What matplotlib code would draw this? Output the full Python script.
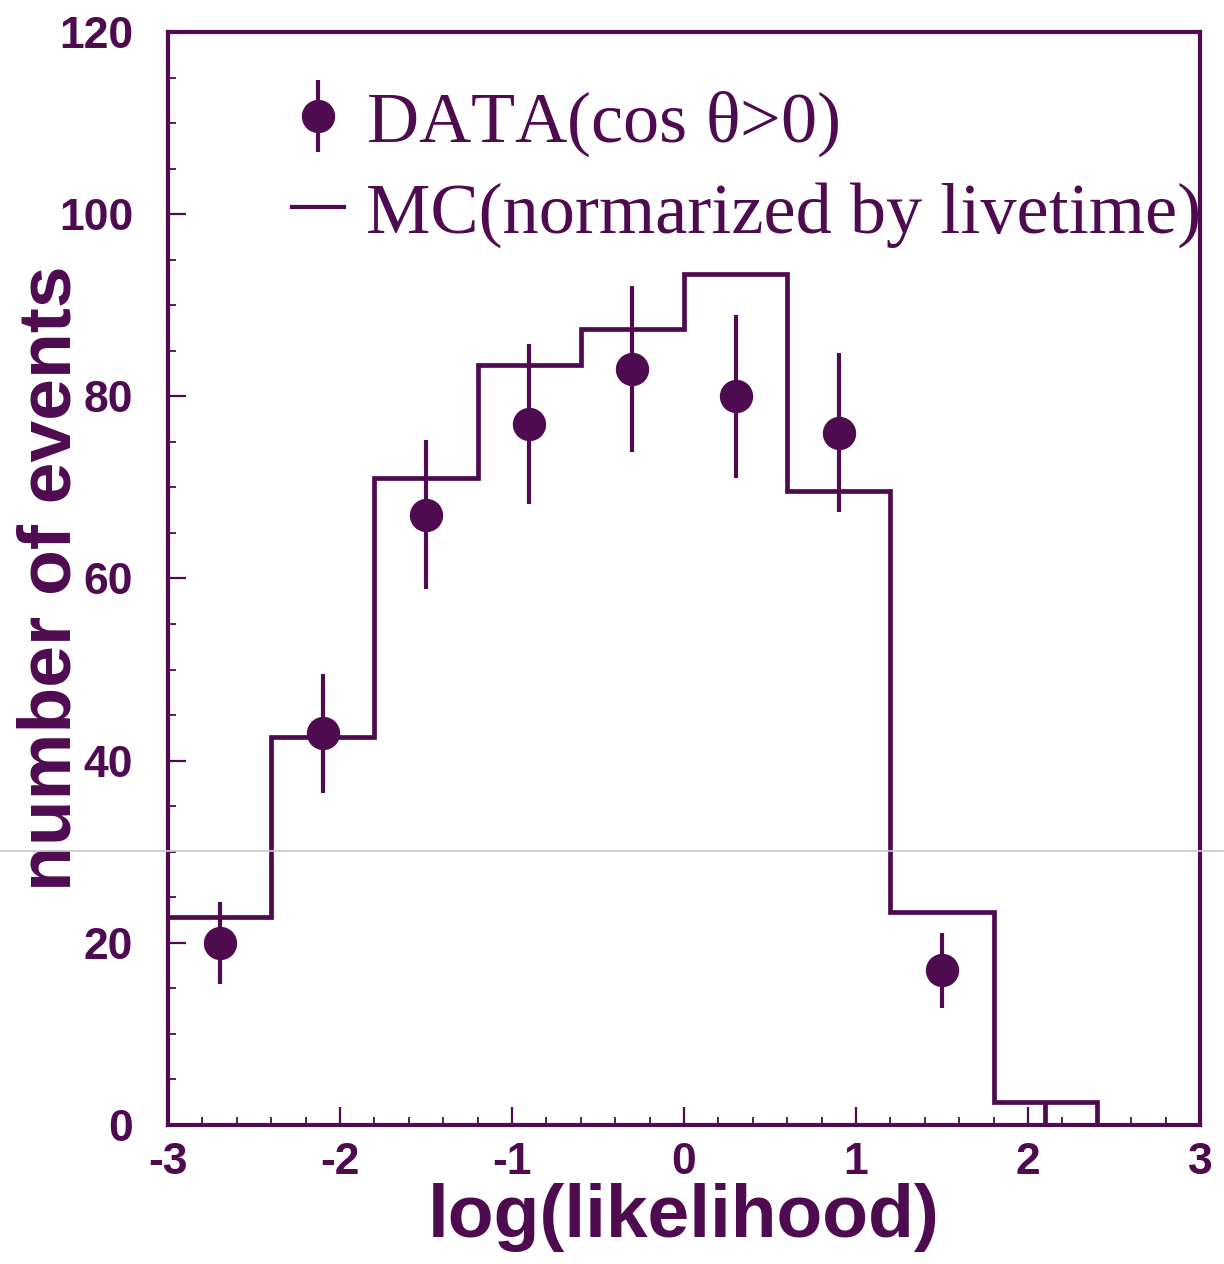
import matplotlib
matplotlib.use('Agg')
import matplotlib.pyplot as plt
from matplotlib.lines import Line2D
from matplotlib.ticker import MultipleLocator
import numpy as np

plt.rcParams['axes.unicode_minus'] = False

# histogram of the MC expectation (bin edges and contents)
mc_edges = [-3.0, -2.4, -1.8, -1.2, -0.6, 0.0, 0.6, 1.2, 1.8, 2.1, 2.4, 3.0]
mc_counts = [22.8, 42.6, 71.0, 83.4, 87.4, 93.4, 69.6, 23.4, 2.5, 2.5, 0.0]

# measured points
data_x = [-2.7, -2.1, -1.5, -0.9, -0.3, 0.3, 0.9, 1.5]
data_y = [20, 43, 67, 77, 83, 80, 76, 17]
data_err = np.sqrt(data_y)

col = '#4e0b4f'

fig = plt.figure(figsize=(12.24, 12.64), dpi=100)
ax = fig.add_axes([0.1373, 0.110, 0.8431, 0.8647])

ax.stairs(mc_counts, mc_edges, color=col, lw=3.4, baseline=None)
# inner edge between the two last filled bins
ax.vlines(mc_edges[9], 0, mc_counts[8], color=col, lw=3.4)
ax.errorbar(data_x, data_y, yerr=data_err, fmt='o', color=col, ms=23,
            elinewidth=3.0, capsize=0)

ax.set_xlim(-3, 3)
ax.set_ylim(0, 120)

ax.xaxis.set_major_locator(MultipleLocator(1))
ax.xaxis.set_minor_locator(MultipleLocator(0.2))
ax.yaxis.set_major_locator(MultipleLocator(20))
ax.yaxis.set_minor_locator(MultipleLocator(5))
ax.tick_params(which='both', direction='in', color=col, top=False, right=False)
ax.tick_params(which='major', length=13, width=1.6)
ax.tick_params(which='minor', length=6, width=1.3)
ax.tick_params(axis='x', pad=12)
ax.tick_params(axis='y', pad=25)
for lab in ax.get_xticklabels() + ax.get_yticklabels():
    lab.set_fontfamily('Liberation Sans')
    lab.set_fontweight('bold')
    lab.set_fontsize(32)
    lab.set_color(col)
for sp in ax.spines.values():
    sp.set_color(col)
    sp.set_linewidth(3.0)

ax.set_xlabel('log(likelihood)', family='Liberation Sans', weight='bold',
              fontsize=54, color=col, labelpad=0)
ax.set_ylabel('number of events', family='Liberation Sans', weight='bold',
              fontsize=54, color=col)
ax.yaxis.set_label_coords(-0.080, 0.5)

h_data = ax.errorbar([], [], yerr=[], fmt='o', color=col, ms=23,
                     elinewidth=3.0, capsize=0)
h_mc = Line2D([], [], color=col, lw=3.0)
leg = ax.legend([h_data, h_mc], [r'DATA(cos $\mathregular{\theta}$>0)',
                                 'MC(normarized by livetime)'],
                loc='upper left', bbox_to_anchor=(0.12, 0.948), frameon=False,
                prop={'family': 'Liberation Serif', 'size': 52},
                handlelength=0.72, handletextpad=0.3, labelspacing=0.32,
                borderpad=0, borderaxespad=0)
for t in leg.get_texts():
    t.set_color(col)

# faint scanner streak across the page
fig.add_artist(Line2D([0, 1], [1 - 851 / 1264] * 2, transform=fig.transFigure,
                      color='#c8c8cc', lw=1.2))

fig.savefig('out.png', dpi=100)
